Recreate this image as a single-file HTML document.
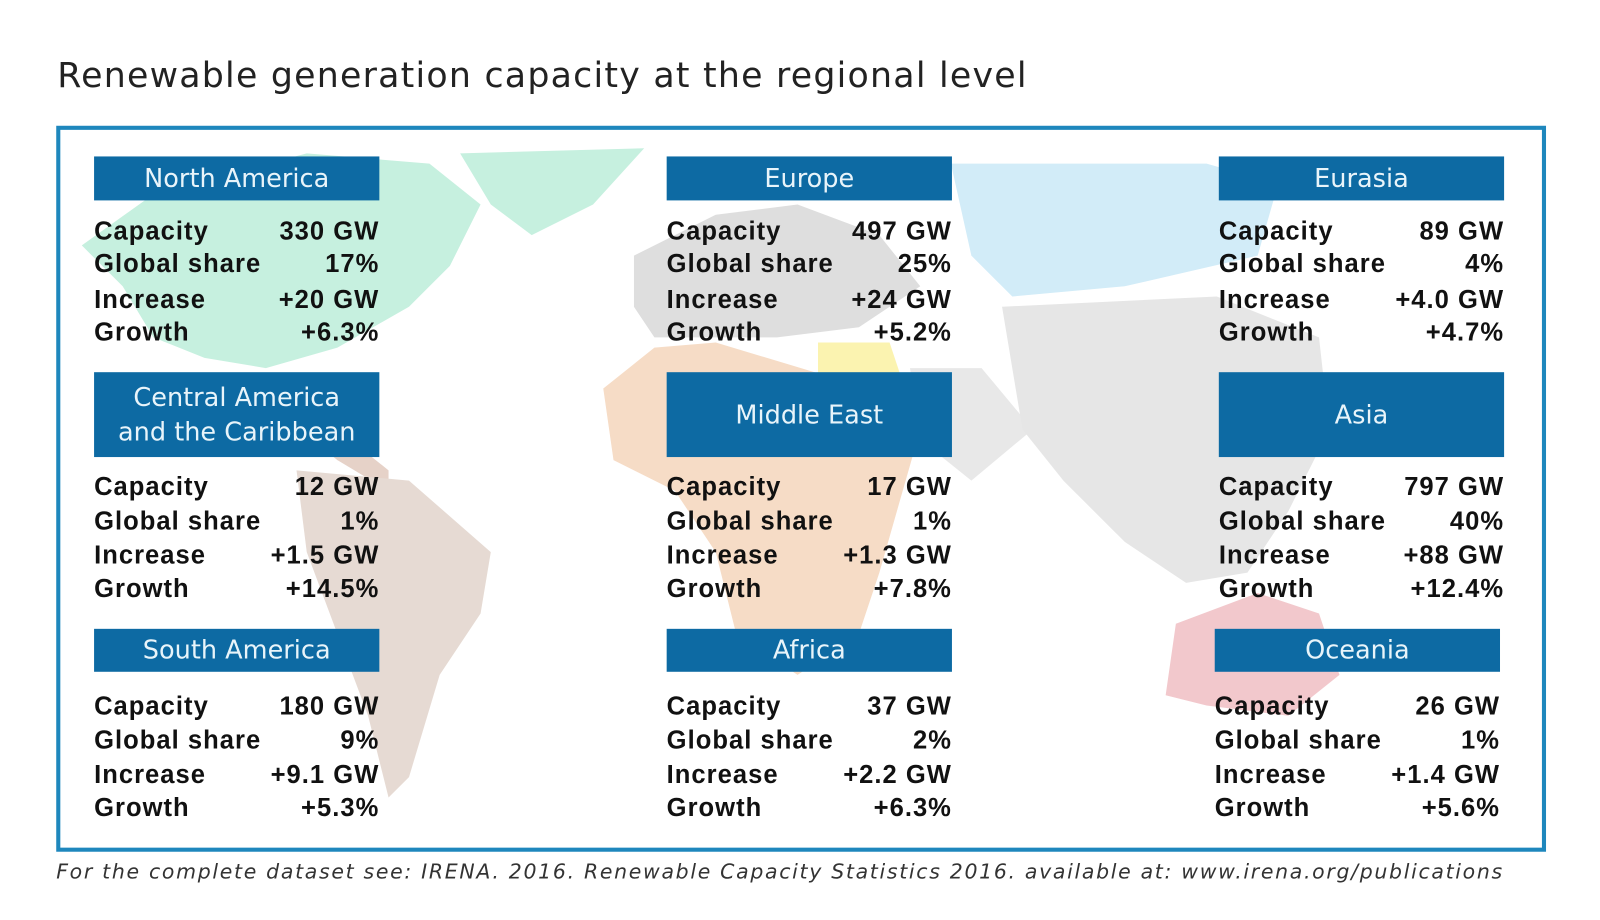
<!DOCTYPE html>
<html><head><meta charset="utf-8"><style>
body{margin:0;width:1600px;height:900px;background:#fff;overflow:hidden;font-family:"Liberation Sans",sans-serif}
#w{position:absolute;left:0;top:0;width:1600px;height:900px;transform:scale(1.0225);transform-origin:0 0}
.title{position:absolute;left:56px;top:54px;font-size:34px;color:#222;font-family:"DejaVu Sans",sans-serif;letter-spacing:1.2px;white-space:nowrap}
.frame{position:absolute;left:55px;top:123px;width:1449px;height:702px;border:4px solid #1e87bd}
.h{position:absolute;background:#0d6aa3;color:#e8f4fa;font-size:25px;font-family:"DejaVu Sans",sans-serif;text-align:center;display:flex;align-items:center;justify-content:center;line-height:34px;width:279px}
.r{position:absolute;width:279px;font-weight:bold;font-size:25px;letter-spacing:1px;color:#111;display:flex;justify-content:space-between;height:30px;line-height:30px}
.foot{position:absolute;left:55px;top:840px;font-size:20px;font-style:italic;color:#333;font-family:"DejaVu Sans",sans-serif;letter-spacing:1.65px;white-space:nowrap}
</style></head><body><div id="w">
<div class="title">Renewable generation capacity at the regional level</div>
<svg style="position:absolute;left:0;top:0" width="1600" height="900">
<g stroke="none">
<path d="M80,240 L150,190 L300,150 L420,160 L470,200 L440,260 L400,300 L330,340 L260,360 L200,350 L150,330 L120,280 Z" fill="#c6f0df"/>
<path d="M450,150 L630,145 L580,200 L520,230 L480,200 Z" fill="#c6f0df"/>
<path d="M230,370 L330,420 L380,460 L380,480 L330,450 Z" fill="#e6d2c8"/>
<path d="M290,460 L400,470 L480,540 L470,600 L430,660 L400,760 L380,780 L360,700 L330,620 L300,540 Z" fill="#e6dad3"/>
<path d="M620,250 L700,210 L780,200 L860,230 L900,280 L840,320 L760,330 L700,330 L640,330 L620,300 Z" fill="#dedede"/>
<path d="M800,335 L870,335 L880,365 L800,365 Z" fill="#fbf3b0"/>
<path d="M590,380 L640,340 L700,335 L800,365 L880,370 L900,420 L880,490 L860,560 L840,620 L780,660 L720,620 L700,540 L660,480 L600,450 Z" fill="#f6dcc6"/>
<path d="M890,360 L960,360 L1010,420 L950,470 L900,430 Z" fill="#e8e8e8"/>
<path d="M930,160 L1180,160 L1250,180 L1230,250 L1100,280 L990,290 L950,250 Z" fill="#d2ecf8"/>
<path d="M980,300 L1190,290 L1290,330 L1300,420 L1260,500 L1220,560 L1160,570 L1100,530 L1040,470 L1000,420 Z" fill="#e6e6e6"/>
<path d="M1150,610 L1230,580 L1290,600 L1310,660 L1260,700 L1180,690 L1140,680 Z" fill="#f2c8cc"/>
</g></svg>
<div class="frame"></div>

<div class="h" style="left:92px;top:153px;height:43px">North America</div>
<div class="r" style="left:92px;top:211px"><span>Capacity</span><span>330 GW</span></div>
<div class="r" style="left:92px;top:243px"><span>Global share</span><span>17%</span></div>
<div class="r" style="left:92px;top:278px"><span>Increase</span><span>+20 GW</span></div>
<div class="r" style="left:92px;top:310px"><span>Growth</span><span>+6.3%</span></div>

<div class="h" style="left:652px;top:153px;height:43px">Europe</div>
<div class="r" style="left:652px;top:211px"><span>Capacity</span><span>497 GW</span></div>
<div class="r" style="left:652px;top:243px"><span>Global share</span><span>25%</span></div>
<div class="r" style="left:652px;top:278px"><span>Increase</span><span>+24 GW</span></div>
<div class="r" style="left:652px;top:310px"><span>Growth</span><span>+5.2%</span></div>

<div class="h" style="left:1192px;top:153px;height:43px">Eurasia</div>
<div class="r" style="left:1192px;top:211px"><span>Capacity</span><span>89 GW</span></div>
<div class="r" style="left:1192px;top:243px"><span>Global share</span><span>4%</span></div>
<div class="r" style="left:1192px;top:278px"><span>Increase</span><span>+4.0 GW</span></div>
<div class="r" style="left:1192px;top:310px"><span>Growth</span><span>+4.7%</span></div>

<div class="h" style="left:92px;top:364px;height:83px">Central America<br>and the Caribbean</div>
<div class="r" style="left:92px;top:461px"><span>Capacity</span><span>12 GW</span></div>
<div class="r" style="left:92px;top:495px"><span>Global share</span><span>1%</span></div>
<div class="r" style="left:92px;top:528px"><span>Increase</span><span>+1.5 GW</span></div>
<div class="r" style="left:92px;top:561px"><span>Growth</span><span>+14.5%</span></div>

<div class="h" style="left:652px;top:364px;height:83px">Middle East</div>
<div class="r" style="left:652px;top:461px"><span>Capacity</span><span>17 GW</span></div>
<div class="r" style="left:652px;top:495px"><span>Global share</span><span>1%</span></div>
<div class="r" style="left:652px;top:528px"><span>Increase</span><span>+1.3 GW</span></div>
<div class="r" style="left:652px;top:561px"><span>Growth</span><span>+7.8%</span></div>

<div class="h" style="left:1192px;top:364px;height:83px">Asia</div>
<div class="r" style="left:1192px;top:461px"><span>Capacity</span><span>797 GW</span></div>
<div class="r" style="left:1192px;top:495px"><span>Global share</span><span>40%</span></div>
<div class="r" style="left:1192px;top:528px"><span>Increase</span><span>+88 GW</span></div>
<div class="r" style="left:1192px;top:561px"><span>Growth</span><span>+12.4%</span></div>

<div class="h" style="left:92px;top:615px;height:42px">South America</div>
<div class="r" style="left:92px;top:676px"><span>Capacity</span><span>180 GW</span></div>
<div class="r" style="left:92px;top:709px"><span>Global share</span><span>9%</span></div>
<div class="r" style="left:92px;top:743px"><span>Increase</span><span>+9.1 GW</span></div>
<div class="r" style="left:92px;top:775px"><span>Growth</span><span>+5.3%</span></div>

<div class="h" style="left:652px;top:615px;height:42px">Africa</div>
<div class="r" style="left:652px;top:676px"><span>Capacity</span><span>37 GW</span></div>
<div class="r" style="left:652px;top:709px"><span>Global share</span><span>2%</span></div>
<div class="r" style="left:652px;top:743px"><span>Increase</span><span>+2.2 GW</span></div>
<div class="r" style="left:652px;top:775px"><span>Growth</span><span>+6.3%</span></div>

<div class="h" style="left:1188px;top:615px;height:42px">Oceania</div>
<div class="r" style="left:1188px;top:676px"><span>Capacity</span><span>26 GW</span></div>
<div class="r" style="left:1188px;top:709px"><span>Global share</span><span>1%</span></div>
<div class="r" style="left:1188px;top:743px"><span>Increase</span><span>+1.4 GW</span></div>
<div class="r" style="left:1188px;top:775px"><span>Growth</span><span>+5.6%</span></div>

<div class="foot">For the complete dataset see: IRENA. 2016. Renewable Capacity Statistics 2016. available at: www.irena.org/publications</div>
</div></body></html>
